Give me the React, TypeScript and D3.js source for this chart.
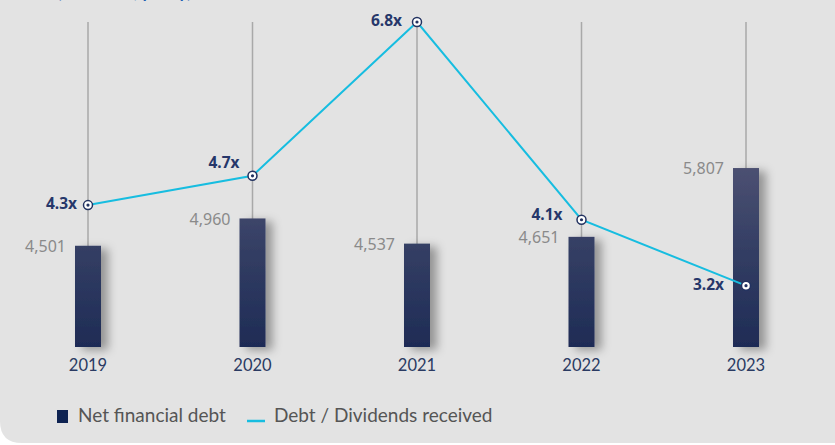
import React from "react";
import * as d3 from "d3";

const years = ["2019", "2020", "2021", "2022", "2023"];
const netFinancialDebt = [4501, 4960, 4537, 4651, 5807];
const debtToDividends = [4.3, 4.7, 6.8, 4.1, 3.2];
const debtLabels = ["4,501", "4,960", "4,537", "4,651", "5,807"];
const ratioLabels = ["4.3x", "4.7x", "6.8x", "4.1x", "3.2x"];
const legendItems = ["Net financial debt", "Debt / Dividends received"];

const W = 835;
const H = 445;
const NAVY = "#223260";
const CYAN = "#17bde0";

export default function App() {
  const x = d3.scalePoint<string>().domain(years).range([88, 746]);
  const yBar = d3.scaleLinear().domain([2800, 5900]).range([347, 162.5]);
  const yLine = d3.scaleLinear().domain([0, 6.8]).range([520, 22]);
  const barW = 26;
  const ratioDy = [0, -12, 0, -4, 0];
  const ratioDx = [11, 13, 15, 19, 22];

  const line = d3
    .line<number>()
    .x((_, i) => x(years[i])!)
    .y((d) => yLine(d));

  return (
    <div style={{ position: "fixed", left: 0, top: 0, width: W, height: H, background: "#fff" }}>
      <svg width={W} height={H} style={{ display: "block" }}>
        <defs>
          <linearGradient id="barGrad" gradientUnits="userSpaceOnUse" x1="0" y1="160" x2="0" y2="350">
            <stop offset="0" stopColor="#4e5273" />
            <stop offset="0.5" stopColor="#323d63" />
            <stop offset="1" stopColor="#1e2b55" />
          </linearGradient>
          <filter id="shadow" x="-50%" y="-20%" width="250%" height="140%">
            <feDropShadow dx="7" dy="3" stdDeviation="5" floodColor="#000" floodOpacity="0.35" />
          </filter>
        </defs>
        <path
          d={`M0,0 H${W} V${H - 2} H22 Q0,${H - 2} 0,${H - 24} Z`}
          fill="#e3e3e3"
        />
        <text x={57} y={-2} fill="#1a5cb0" fontFamily="Lato, sans-serif" fontSize={17} fontWeight={700}>
          (€ millions, yearly)
        </text>
        {years.map((yr) => (
          <line
            key={"v" + yr}
            x1={x(yr)}
            x2={x(yr)}
            y1={22}
            y2={347}
            stroke="#a9a9a9"
            strokeWidth={1.5}
          />
        ))}
        {netFinancialDebt.map((v, i) => (
          <rect
            key={"b" + i}
            x={x(years[i])! - barW / 2}
            y={yBar(v)}
            width={barW}
            height={yBar(2800) - yBar(v)}
            fill="url(#barGrad)"
            filter="url(#shadow)"
          />
        ))}
        {netFinancialDebt.map((v, i) => (
          <text
            key={"bl" + i}
            x={x(years[i])! - 22}
            y={yBar(v) + 2}
            dominantBaseline="middle"
            textAnchor="end"
            fill="#8a8a8a"
            fontFamily="'Noto Sans', sans-serif"
            fontSize={16}
          >
            {debtLabels[i]}
          </text>
        ))}
        {years.map((yr) => (
          <text
            key={"y" + yr}
            x={x(yr)}
            y={367}
            dominantBaseline="middle"
            textAnchor="middle"
            fill="#2a3a62"
            fontFamily="Lato, sans-serif"
            fontSize={16.5}
          >
            {yr}
          </text>
        ))}
        <path d={line(debtToDividends) || ""} fill="none" stroke={CYAN} strokeWidth={2} />
        {debtToDividends.map((v, i) => (
          <g key={"m" + i}>
            <circle cx={x(years[i])} cy={yLine(v)} r={4.5} fill="#fff" stroke={NAVY} strokeWidth={1.5} />
            <circle cx={x(years[i])} cy={yLine(v)} r={1.6} fill={NAVY} />
            <text
              x={x(years[i])! - ratioDx[i]}
              y={yLine(v) + ratioDy[i]}
              dominantBaseline="middle"
              textAnchor="end"
              fill="#26376a"
              fontFamily="'Noto Sans', sans-serif"
              fontWeight={700}
              fontSize={15.5}
            >
              {ratioLabels[i]}
            </text>
          </g>
        ))}
        <rect x={57} y={410} width={11} height={13} fill="#0e2352" />
        <text x={78} y={417} dominantBaseline="middle" fill="#555" fontFamily="Lato, sans-serif" fontSize={19}>
          {legendItems[0]}
        </text>
        <line x1={247} x2={265} y1={421} y2={421} stroke={CYAN} strokeWidth={2.5} />
        <text x={274} y={417} dominantBaseline="middle" fill="#555" fontFamily="Lato, sans-serif" fontSize={19}>
          {legendItems[1]}
        </text>
      </svg>
    </div>
  );
}
